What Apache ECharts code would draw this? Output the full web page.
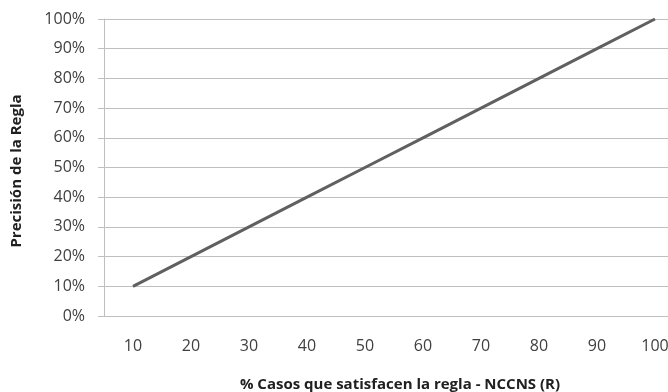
<!DOCTYPE html>
<html>
<head>
<meta charset="utf-8">
<script src="https://cdn.jsdelivr.net/npm/echarts@6/dist/echarts.min.js"></script>
<style>html,body{margin:0;padding:0;background:#fff;overflow:hidden;width:668px;height:392px;}#c{width:684px;height:392px;}</style>
</head>
<body>
<div id="c"></div>
<script>
var categories = ['10','20','30','40','50','60','70','80','90','100'];
var precision = [0.10,0.20,0.30,0.40,0.50,0.60,0.70,0.80,0.90,1.00];
var yTicks = {min:0, max:1, interval:0.1};
var xTitle = '% Casos que satisfacen la regla - NCCNS (R)';
var yTitle = 'Precisión de la Regla';

var chart = echarts.init(document.getElementById('c'), null, {renderer:'canvas'});
var font = 'Open Sans';
chart.setOption({
  animation:false,
  grid:{left:104, top:19, right:0, bottom:76, containLabel:false},
  xAxis:{
    type:'category', data:categories, boundaryGap:true,
    axisLine:{show:true, lineStyle:{color:'#bfbfbf', width:1}},
    axisTick:{show:false},
    axisLabel:{color:'#404040', fontFamily:font, fontSize:16, margin:22}
  },
  yAxis:{
    type:'value', min:yTicks.min, max:yTicks.max, interval:yTicks.interval,
    axisLine:{show:true, lineStyle:{color:'#bfbfbf', width:1}},
    axisTick:{show:true, length:6, lineStyle:{color:'#bfbfbf'}},
    splitLine:{show:true, lineStyle:{color:'#bfbfbf', width:1}},
    axisLabel:{color:'#404040', fontFamily:font, fontSize:16, margin:19,
      formatter:function(v){return Math.round(v*100)+'%';}}
  },
  graphic:[
    {type:'text', x:400, y:385, style:{text:xTitle, font:'bold 15px "Open Sans"', fill:'#202020', align:'center', verticalAlign:'middle'}},
    {type:'text', x:17, y:171, rotation:Math.PI/2, style:{text:yTitle, font:'bold 15px "Open Sans"', fill:'#202020', align:'center', verticalAlign:'middle'}}
  ],
  series:[{
    type:'line', data:precision, symbol:'none',
    lineStyle:{color:'#606060', width:3}
  }]
});
</script>
</body>
</html>
